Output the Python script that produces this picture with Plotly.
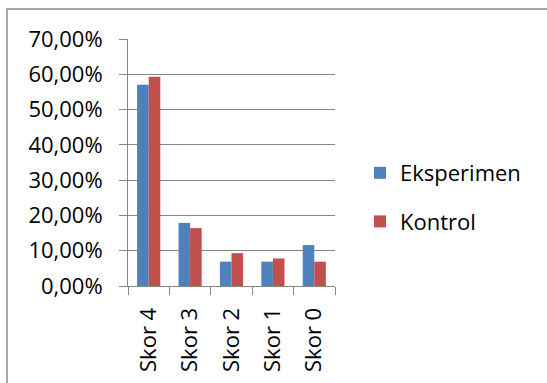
import plotly.graph_objects as go

categories = ["Skor 4", "Skor 3", "Skor 2", "Skor 1", "Skor 0"]
eksperimen = [57.0, 17.9, 6.9, 6.9, 11.6]
kontrol = [59.3, 16.4, 9.3, 7.8, 6.9]
y_ticks = [0, 10, 20, 30, 40, 50, 60, 70]
y_tick_labels = ["0,00%", "10,00%", "20,00%", "30,00%", "40,00%", "50,00%", "60,00%", "70,00%"]

W, H = 547, 383
L, R, T, B = 128, 212, 39, 97
pw, ph = W - L - R, H - T - B

def px_x(x):
    return (x - L) / pw

def px_y(y):
    return (H - B - y) / ph

FONT = "Open Sans"
fig = go.Figure()
fig.add_trace(go.Bar(x=categories, y=eksperimen, name="Eksperimen",
                     marker=dict(color="#4F81BD", line=dict(width=0)), legendgroup="a"))
fig.add_trace(go.Bar(x=categories, y=kontrol, name="Kontrol",
                     marker=dict(color="#C0504D", line=dict(width=0)), legendgroup="b"))

fig.update_layout(
    width=W, height=H,
    margin=dict(l=L, r=R, t=T, b=B),
    paper_bgcolor="white", plot_bgcolor="white",
    barmode="group", bargap=0.44, bargroupgap=0,
    font=dict(family=FONT, size=22, color="#000000"),
    legend=dict(x=px_x(360), y=px_y(152), xanchor="left", yanchor="top",
                font=dict(family=FONT, size=22), tracegroupgap=17,
                bgcolor="rgba(0,0,0,0)"),
    showlegend=True,
)
fig.update_yaxes(range=[0, 70], tickvals=y_ticks, ticktext=y_tick_labels,
                 showgrid=True, gridcolor="#868686", gridwidth=1,
                 showline=True, linecolor="#868686", linewidth=1,
                 ticks="outside", ticklen=8, tickcolor="#868686",
                 zeroline=False, tickfont=dict(family=FONT, size=22),
                 ticklabelstandoff=12)
fig.update_xaxes(showline=True, linecolor="#868686", linewidth=1,
                 ticks="outside", ticklen=8, tickcolor="#868686",
                 tickson="boundaries", tickangle=-90,
                 tickfont=dict(family=FONT, size=22), ticklabelstandoff=12)
fig.add_shape(type="rect", xref="paper", yref="paper",
              x0=px_x(7), x1=px_x(600), y0=px_y(420), y1=px_y(9),
              line=dict(color="#8c8c8c", width=1.5), layer="below")
fig.write_html("out.html")
